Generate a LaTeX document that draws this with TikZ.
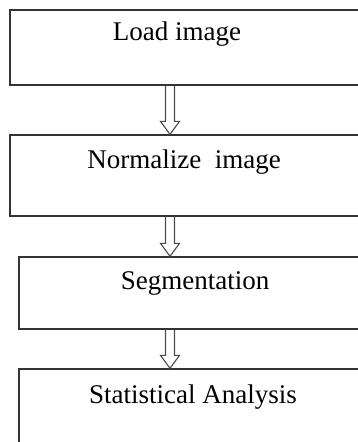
\documentclass[tikz,border=0pt]{standalone}
\usepackage{fontspec}
\setmainfont{Liberation Serif}
\usetikzlibrary{calc, positioning}
\tikzset{
  stepbox/.style={rectangle, draw=black!80, line width=1.3pt, inner sep=0},
  steptext/.style={text=black, inner sep=0, font=\fontsize{27}{32}\selectfont},
  flowarrow/.style={draw=black!70, line width=1.1pt, line join=miter}
}

\begin{document}
\begin{tikzpicture}[x=1pt, y=-1pt]
      \useasboundingbox (0,0) rectangle (358,442);
      \clip (0,0) rectangle (358,442);

      \node[stepbox, minimum width=370pt, minimum height=75pt](load) at (195, 47.5){};
      \node[stepbox, minimum width=370pt, minimum height=81pt](norm) at (195, 175.5){};
      \node[stepbox, minimum width=361pt, minimum height=72pt](seg) at (199.5, 293){};
      \node[stepbox, minimum width=361pt, minimum height=101pt](stat) at (199.5, 419.5){};

      \node[steptext](t1) at (177, 34){Load image};
      \node[steptext](t2) at (184, 162){Normalize\ \ image};
      \node[steptext](t3) at (195, 283){Segmentation};
      \node[steptext](t4) at (193, 397){Statistical Analysis};

      \coordinate (ax) at (170, 0);
      \foreach \a/\b in {load/norm, norm/seg, seg/stat}{
        \coordinate (s) at (\a.south -| ax);
        \coordinate (e) at (\b.north -| ax);
        \draw[flowarrow] ($(s)+(-4.5,0)$) -- ($(e)+(-4.5,-13)$) -- ($(e)+(-9.5,-13)$)
          -- (e) -- ($(e)+(9.5,-13)$) -- ($(e)+(4.5,-13)$) -- ($(s)+(4.5,0)$);
      }
    \end{tikzpicture}
\end{document}
